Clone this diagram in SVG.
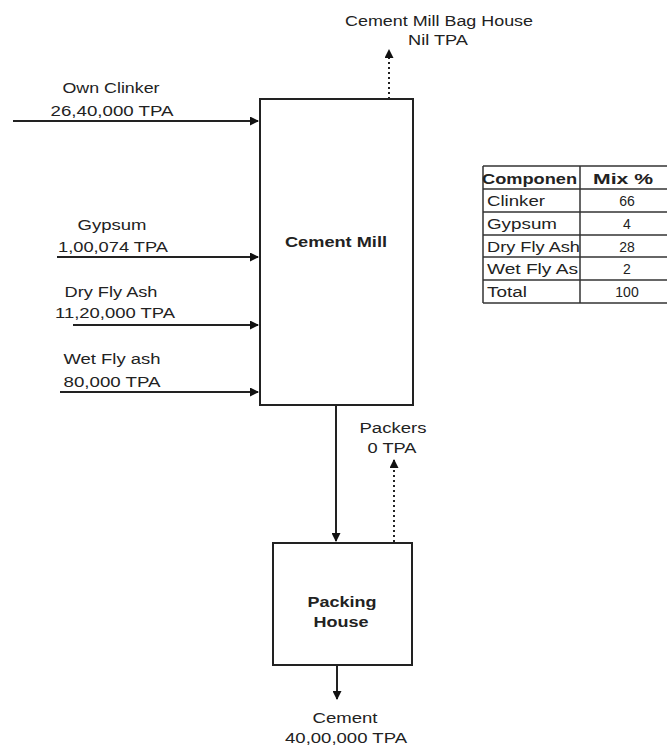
<svg xmlns="http://www.w3.org/2000/svg" width="667" height="751" viewBox="0 0 667 751">
<style>
text{font-family:"Liberation Sans",Arial,sans-serif;font-size:14px;fill:#222;}
.c{text-anchor:middle;}
.b{font-weight:bold;}
.box{fill:#fff;stroke:#222;stroke-width:2;}
.ln{stroke:#222;stroke-width:2;fill:none;}
.dot{stroke:#222;stroke-width:2;fill:none;stroke-dasharray:2,3;}
.tl{stroke:#333;stroke-width:1.5;}
</style>
<defs>
<marker id="ah" markerWidth="9" markerHeight="9" refX="8" refY="4.5" orient="auto" markerUnits="userSpaceOnUse">
<path d="M0,0 L9,4.5 L0,9 Z" fill="#111"/>
</marker>
</defs>
<rect width="667" height="751" fill="#fff"/>
<g id="connectors">
<line class="ln" x1="13" y1="121" x2="258" y2="121" marker-end="url(#ah)"/>
<line class="ln" x1="57" y1="257" x2="258" y2="257" marker-end="url(#ah)"/>
<line class="ln" x1="73" y1="325" x2="258" y2="325" marker-end="url(#ah)"/>
<line class="ln" x1="60" y1="392" x2="258" y2="392" marker-end="url(#ah)"/>
<line class="dot" x1="389" y1="99" x2="389" y2="50" marker-end="url(#ah)"/>
<line class="ln" x1="336" y1="405" x2="336" y2="541" marker-end="url(#ah)"/>
<line class="dot" x1="394" y1="542" x2="394" y2="460" marker-end="url(#ah)"/>
<line class="ln" x1="337" y1="665" x2="337" y2="699" marker-end="url(#ah)"/>
</g>
<g id="cement-mill">
<rect class="box" x="260" y="99" width="153" height="306"/>
<text class="c b" x="336" y="247" textLength="102" lengthAdjust="spacingAndGlyphs">Cement Mill</text>
</g>
<g id="packing-house">
<rect class="box" x="273" y="543" width="139" height="122"/>
<text class="c b" x="342" y="607" textLength="69" lengthAdjust="spacingAndGlyphs">Packing</text>
<text class="c b" x="341" y="627" textLength="55" lengthAdjust="spacingAndGlyphs">House</text>
</g>
<g id="labels">
<text class="c" x="439" y="26" textLength="188" lengthAdjust="spacingAndGlyphs">Cement Mill Bag House</text>
<text class="c" x="438" y="45" textLength="60" lengthAdjust="spacingAndGlyphs">Nil TPA</text>
<text class="c" x="111" y="93" textLength="97" lengthAdjust="spacingAndGlyphs">Own Clinker</text>
<text class="c" x="112" y="116" textLength="123" lengthAdjust="spacingAndGlyphs">26,40,000 TPA</text>
<text class="c" x="112" y="230" textLength="69" lengthAdjust="spacingAndGlyphs">Gypsum</text>
<text class="c" x="113" y="252" textLength="110" lengthAdjust="spacingAndGlyphs">1,00,074 TPA</text>
<text class="c" x="111" y="297" textLength="93" lengthAdjust="spacingAndGlyphs">Dry Fly Ash</text>
<text class="c" x="115" y="318" textLength="120" lengthAdjust="spacingAndGlyphs">11,20,000 TPA</text>
<text class="c" x="112" y="364" textLength="97" lengthAdjust="spacingAndGlyphs">Wet Fly ash</text>
<text class="c" x="112" y="387" textLength="97" lengthAdjust="spacingAndGlyphs">80,000 TPA</text>
<text class="c" x="393" y="433" textLength="67" lengthAdjust="spacingAndGlyphs">Packers</text>
<text class="c" x="392" y="453" textLength="49" lengthAdjust="spacingAndGlyphs">0 TPA</text>
<text class="c" x="345" y="723" textLength="65" lengthAdjust="spacingAndGlyphs">Cement</text>
<text class="c" x="346" y="743" textLength="122" lengthAdjust="spacingAndGlyphs">40,00,000 TPA</text>
</g>
<g id="table">
<line class="tl" x1="483" y1="166" x2="667" y2="166"/>
<line class="tl" x1="483" y1="189" x2="667" y2="189"/>
<line class="tl" x1="483" y1="212" x2="667" y2="212" stroke-width="1"/>
<line class="tl" x1="483" y1="235" x2="667" y2="235"/>
<line class="tl" x1="483" y1="257" x2="667" y2="257"/>
<line class="tl" x1="483" y1="280" x2="667" y2="280"/>
<line class="tl" x1="483" y1="303" x2="667" y2="303"/>
<line class="tl" x1="483" y1="166" x2="483" y2="303"/>
<line class="tl" x1="580" y1="166" x2="580" y2="303"/>
<text class="b" x="482" y="184" textLength="95" lengthAdjust="spacingAndGlyphs">Componen</text>
<text class="c b" x="623" y="184" textLength="60" lengthAdjust="spacingAndGlyphs">Mix %</text>
<text x="487" y="206" textLength="58" lengthAdjust="spacingAndGlyphs">Clinker</text>
<text class="c" x="627" y="206">66</text>
<text x="487" y="229" textLength="70" lengthAdjust="spacingAndGlyphs">Gypsum</text>
<text class="c" x="627" y="229">4</text>
<text x="487" y="252" textLength="93" lengthAdjust="spacingAndGlyphs">Dry Fly Ash</text>
<text class="c" x="627" y="252">28</text>
<text x="487" y="274" textLength="91" lengthAdjust="spacingAndGlyphs">Wet Fly As</text>
<text class="c" x="627" y="274">2</text>
<text x="487" y="297" textLength="40" lengthAdjust="spacingAndGlyphs">Total</text>
<text class="c" x="627" y="297">100</text>
</g>
</svg>
